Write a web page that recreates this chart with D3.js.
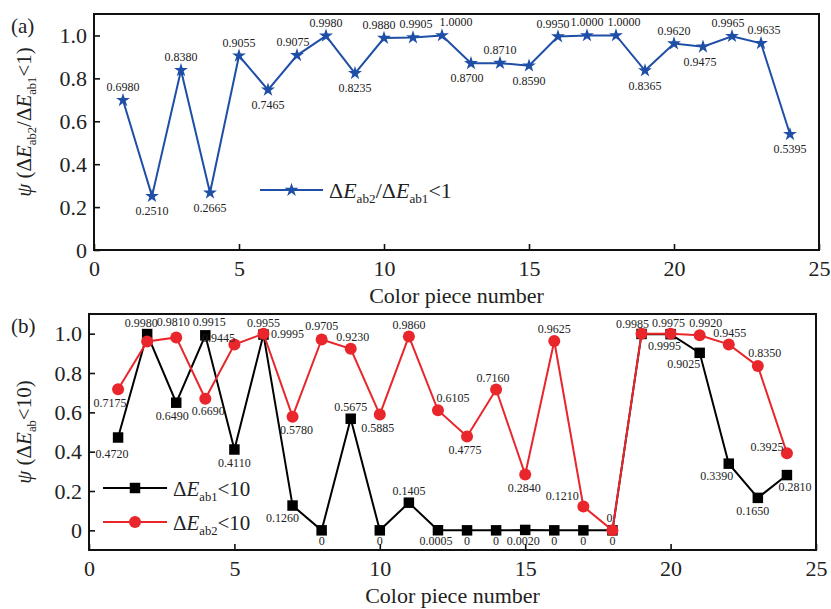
<!DOCTYPE html>
<html><head><meta charset="utf-8">
<script src="https://cdn.jsdelivr.net/npm/d3@7"></script>
<style>
body{margin:0;background:#fff}
svg{display:block}
text{font-family:"Liberation Serif","Times New Roman",serif;fill:#222}
</style>
</head><body>
<svg id="c" width="831" height="609"></svg>
<script>
// ---------- data ----------
const pieces = [1,2,3,4,5,6,7,8,9,10,11,12,13,14,15,16,17,18,19,20,21,22,23,24];

const ratioValues = [0.6980,0.2510,0.8380,0.2665,0.9055,0.7465,0.9075,0.9980,0.8235,0.9880,0.9905,1.0000,
                     0.8700,0.8710,0.8590,0.9950,1.0000,1.0000,0.8365,0.9620,0.9475,0.9965,0.9635,0.5395];
const ratioLabels = ["0.6980","0.2510","0.8380","0.2665","0.9055","0.7465","0.9075","0.9980","0.8235","0.9880","0.9905","1.0000",
                     "0.8700","0.8710","0.8590","0.9950","1.0000","1.0000","0.8365","0.9620","0.9475","0.9965","0.9635","0.5395"];

const ab1Values = [0.4720,0.9980,0.6490,0.9915,0.4110,0.9955,0.1260,0,0.5675,0,0.1405,0.0005,
                   0,0,0.0020,0,0,0,0.9985,0.9975,0.9025,0.3390,0.1650,0.2810];
const ab1Labels = ["0.4720","0.9980","0.6490","0.9915","0.4110","0.9955","0.1260","0","0.5675","0","0.1405","0.0005",
                   "0","0","0.0020","0","0","0","0.9985","0.9975","0.9025","0.3390","0.1650","0.2810"];

const ab2Values = [0.7175,0.9600,0.9810,0.6690,0.9445,0.9995,0.5780,0.9705,0.9230,0.5885,0.9860,0.6105,
                   0.4775,0.7160,0.2840,0.9625,0.1210,0,1.0000,0.9995,0.9920,0.9455,0.8350,0.3925];
const ab2Labels = ["0.7175","","0.9810","0.6690","0.9445","0.9995","0.5780","0.9705","0.9230","0.5885","0.9860","0.6105",
                   "0.4775","0.7160","0.2840","0.9625","0.1210","0","","0.9995","0.9920","0.9455","0.8350","0.3925"];

const xTicks = [0,5,10,15,20,25];
const yTicks = [0,0.2,0.4,0.6,0.8,1.0];
const yTickLabels = ["0","0.2","0.4","0.6","0.8","1.0"];

// ---------- label layout (pixel nudges relative to each marker; layout only) ----------
const ratioLabelNudge = [[0,-9],[0,19],[0,-9],[0,19],[0,-9],[0,19],[-4,-9],[0,-9],[0,19],[-5,-9],[3,-9],[14,-9],
                         [-4,19],[0,-9],[0,19],[-5,-9],[0,-9],[8,-9],[0,19],[0,-9],[-3,19],[-4,-9],[3,-9],[0,19]];
const ab1LabelNudge = [[-6,20],[-6,-7],[-4,17],[4,-9],[0,17],[0,-8],[-10,16],[0,15],[0,-8],[0,15],[0,-8],[-2,15],
                       [0,15],[0,15],[-2,15],[0,15],[0,15],[0,15],[-9,-6],[-2,-7],[-16,15],[-12,16],[-5,17],[8,16]];
const ab2LabelNudge = [[-8,18],[0,0],[-3,-11],[3,16],[-16,-3],[24,4],[4,17],[0,-9],[2,-8],[-2,17],[0,-7],[15,-8],
                       [-2,18],[-3,-8],[-1,18],[0,-8],[-21,-7],[-3,-8],[0,0],[-6,16],[6,-8],[1,-7],[7,-9],[-20,-2]];

// ---------- helpers ----------
const svg = d3.select("#c");

function richText(sel, parts, size){
  parts.forEach(p=>{
    const ts = sel.append("tspan").text(p.t);
    if(p.i) ts.attr("font-style","italic");
    if(p.sub){ ts.attr("font-size", size*0.6).attr("dy", size*0.22); }
    if(p.after){ ts.attr("dy", -size*0.22); }
  });
}

function panel(cfg){
  const x = d3.scaleLinear().domain([0,25]).range([cfg.left,cfg.right]);
  const y = d3.scaleLinear().domain(cfg.yDomain).range([cfg.bottom,cfg.top]);
  const g = svg.append("g");

  const xa = g.append("g").attr("transform",`translate(0,${cfg.bottom})`)
    .call(d3.axisBottom(x).tickValues(xTicks).tickFormat(d3.format("d")).tickSizeInner(-6).tickSizeOuter(0).tickPadding(10));
  const ya = g.append("g").attr("transform",`translate(${cfg.left},0)`)
    .call(d3.axisLeft(y).tickValues(yTicks).tickFormat((d,i)=>yTickLabels[i]).tickSizeInner(-6).tickSizeOuter(0).tickPadding(7));
  [xa,ya].forEach(a=>{
    a.select(".domain").remove();
    a.selectAll(".tick line").attr("stroke","#111").attr("stroke-width",1.6);
    a.selectAll(".tick text").attr("font-family","Liberation Serif, serif").attr("font-size",22).attr("fill","#222");
  });

  g.append("rect").attr("x",cfg.left).attr("y",cfg.top)
    .attr("width",cfg.right-cfg.left).attr("height",cfg.bottom-cfg.top)
    .attr("fill","none").attr("stroke","#111").attr("stroke-width",2);

  g.append("text").attr("x",(cfg.left+cfg.right)/2).attr("y",cfg.bottom+53)
    .attr("text-anchor","middle").attr("font-size",22).text("Color piece number");
  g.append("text").attr("x",11).attr("y",cfg.top+19).attr("font-size",21).text(cfg.tag);
  const yt = g.append("text").attr("transform",`translate(31,${cfg.yTitleY}) rotate(-90)`)
    .attr("text-anchor","middle").attr("font-size",21);
  richText(yt, cfg.yTitle, 21);
  return {g,x,y};
}

function drawMarker(g, marker, cx, cy, color){
  if(marker==="circle"){
    g.append("circle").attr("cx",cx).attr("cy",cy).attr("r",6).attr("fill",color);
  } else {
    const sym = marker==="star" ? d3.symbol(d3.symbolStar,60) : d3.symbol(d3.symbolSquare,110);
    g.append("path").attr("d",sym()).attr("transform",`translate(${cx},${cy})`).attr("fill",color);
  }
}

function series(p, vals, color, marker){
  const line = d3.line().x((d,i)=>p.x(pieces[i])).y(d=>p.y(d));
  p.g.append("path").datum(vals).attr("d",line).attr("fill","none")
    .attr("stroke",color).attr("stroke-width",2);
  const m = p.g.append("g");
  vals.forEach((v,i)=>drawMarker(m, marker, p.x(pieces[i]), p.y(v), color));
}

function labels(p, vals, labs, nudge){
  const lg = p.g.append("g");
  vals.forEach((v,i)=>{
    if(!labs[i]) return;
    const o = nudge[i];
    lg.append("text").attr("x",p.x(pieces[i])+o[0]).attr("y",p.y(v)+o[1])
      .attr("text-anchor","middle").attr("font-size",12).attr("fill","#333").text(labs[i]);
  });
}

function legendItem(g, x1, x2, y, color, marker, parts, size){
  g.append("line").attr("x1",x1).attr("x2",x2).attr("y1",y).attr("y2",y)
    .attr("stroke",color).attr("stroke-width",2);
  drawMarker(g, marker, (x1+x2)/2, y, color);
  const t = g.append("text").attr("x",x2+6).attr("y",y+8).attr("font-size",size);
  richText(t, parts, size);
}

const blue = "#1f4ea6", red = "#e8262b", black = "#000";

// ---------- panel (a) ----------
const pa = panel({left:94,right:819,top:14,bottom:250,yDomain:[0,1.1],tag:"(a)",yTitleY:122,
  yTitle:[{t:"ψ",i:true},{t:" (Δ"},{t:"E",i:true},{t:"ab2",sub:true},{t:"/Δ",after:true},{t:"E",i:true},{t:"ab1",sub:true},{t:"<1)",after:true}]});
series(pa, ratioValues, blue, "star");
labels(pa, ratioValues, ratioLabels, ratioLabelNudge);
legendItem(pa.g, 260, 323, 190, blue, "star",
  [{t:"Δ"},{t:"E",i:true},{t:"ab2",sub:true},{t:"/Δ",after:true},{t:"E",i:true},{t:"ab1",sub:true},{t:"<1",after:true}], 22);

// ---------- panel (b) ----------
const pb = panel({left:89,right:816,top:314,bottom:550,yDomain:[-0.1,1.1],tag:"(b)",yTitleY:432,
  yTitle:[{t:"ψ",i:true},{t:" (Δ"},{t:"E",i:true},{t:"ab",sub:true},{t:"<10)",after:true}]});
series(pb, ab1Values, black, "square");
series(pb, ab2Values, red, "circle");
labels(pb, ab1Values, ab1Labels, ab1LabelNudge);
labels(pb, ab2Values, ab2Labels, ab2LabelNudge);
legendItem(pb.g, 103, 167, 488, black, "square",
  [{t:"Δ"},{t:"E",i:true},{t:"ab1",sub:true},{t:"<10",after:true}], 21);
legendItem(pb.g, 103, 167, 522, red, "circle",
  [{t:"Δ"},{t:"E",i:true},{t:"ab2",sub:true},{t:"<10",after:true}], 21);
</script>
</body></html>
